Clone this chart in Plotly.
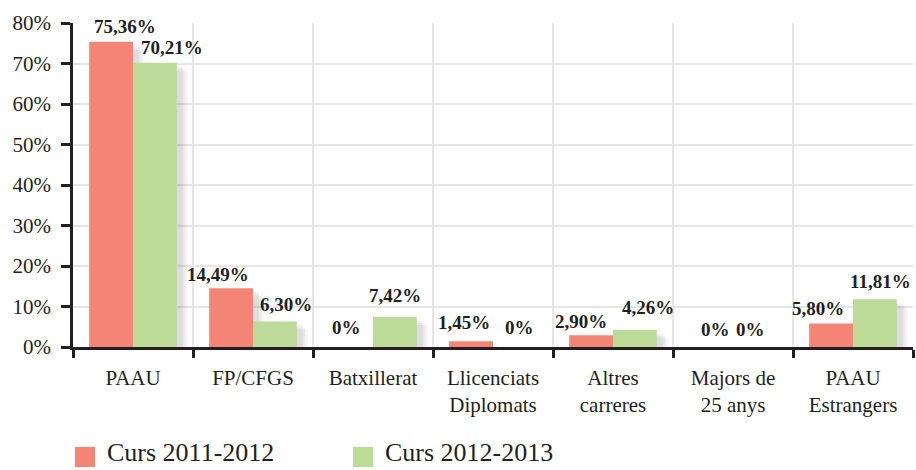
import plotly.graph_objects as go

# Data
categories = ["PAAU", "FP/CFGS", "Batxillerat", "Llicenciats<br>Diplomats",
              "Altres<br>carreres", "Majors de<br>25 anys", "PAAU<br>Estrangers"]
series_names = ["Curs 2011-2012", "Curs 2012-2013"]
values_2011 = [75.36, 14.49, 0, 1.45, 2.90, 0, 5.80]
values_2012 = [70.21, 6.30, 7.42, 0, 4.26, 0, 11.81]
y_ticks = [0, 10, 20, 30, 40, 50, 60, 70, 80]

# Styling
colors = ["#F38476", "#BCDA98"]
ink = "#231F20"
grid = "#E6E6E6"
serif = "Liberation Serif, Times New Roman, serif"
bar_w = 0.365
offsets = [-bar_w, 0.0]

# Label nudges (px) for the value captions
nudge_x = [[14, -13, -5, -7, -10, 4, -13], [17, 11, 0, 5, 13, -4, 6]]
nudge_y = [[8, 6, 12, 11, 6, 10, 8], [8, 9, 14, 12, 15, 10, 10]]

W, H = 916, 470
ML, MR, MT, MB = 73, 3, 23, 123

def fmt(v):
    if v == 0:
        return "0%"
    return f"{v:.2f}".replace(".", ",") + "%"

fig = go.Figure()
series = [values_2011, values_2012]

# Soft drop shadows behind each bar
for s, vals in enumerate(series):
    for k, (grow, alpha) in enumerate([(0.06, 0.05), (0.04, 0.06), (0.02, 0.07)]):
        fig.add_trace(go.Bar(
            x=categories, y=[v + 0.2 if v > 0 else 0 for v in vals],
            base=[-2.2 + k * 0.5 if v > 0 else 0 for v in vals],
            offset=offsets[s] + 0.03, width=bar_w + grow,
            marker=dict(color=f"rgba(60,60,60,{alpha})", line=dict(width=0)),
            showlegend=False, hoverinfo="skip"))

for s, vals in enumerate(series):
    fig.add_trace(go.Bar(
        x=categories, y=vals, name=series_names[s],
        offset=offsets[s], width=bar_w,
        marker=dict(color=colors[s], line=dict(width=0)),
        showlegend=False))

annotations = []
for s, vals in enumerate(series):
    for i, v in enumerate(vals):
        annotations.append(dict(
            x=categories[i], y=v, xref="x", yref="y",
            text=f"<b>{fmt(v)}</b>", showarrow=False,
            xanchor="center", yanchor="bottom",
            xshift=(offsets[s] + bar_w / 2) * (W - ML - MR) / 7 + nudge_x[s][i],
            yshift=nudge_y[s][i] - 5,
            font=dict(family=serif, size=19, color=ink)))

# Legend drawn as squares and text below the axis
plot_w = W - ML - MR
plot_h = H - MT - MB
legend_px = [(75, 105), (353, 383)]
shapes = []
for s, (sq_x, tx_x) in enumerate(legend_px):
    shapes.append(dict(
        type="rect", xref="paper", yref="paper",
        x0=(sq_x - ML) / plot_w, x1=(sq_x + 20 - ML) / plot_w,
        y0=(H - MB - 467) / plot_h, y1=(H - MB - 447) / plot_h,
        fillcolor=colors[s], line=dict(width=0)))
    annotations.append(dict(
        x=(tx_x - ML) / plot_w, y=(H - MB - 469) / plot_h,
        xref="paper", yref="paper", text=series_names[s], showarrow=False,
        xanchor="left", yanchor="bottom",
        font=dict(family=serif, size=26, color=ink)))

fig.update_layout(
    width=W, height=H,
    margin=dict(l=ML, r=MR, t=MT, b=MB),
    paper_bgcolor="white", plot_bgcolor="white",
    barmode="overlay",
    showlegend=False,
    annotations=annotations,
    shapes=shapes,
    font=dict(family=serif, color=ink),
)
fig.update_xaxes(
    type="category", range=[-0.5, 6.5],
    tickson="boundaries", ticks="outside", ticklen=8, tickwidth=2.5, tickcolor=ink,
    showgrid=True, gridcolor=grid, gridwidth=2,
    showline=True, linecolor=ink, linewidth=2.5,
    tickfont=dict(family=serif, size=21, color=ink),
    ticklabelstandoff=10,
)
fig.update_yaxes(
    range=[0, 80], tickvals=y_ticks, ticktext=[f"{t}%" for t in y_ticks],
    ticks="outside", ticklen=9, tickwidth=2.5, tickcolor=ink,
    showgrid=True, gridcolor=grid, gridwidth=2,
    showline=True, linecolor=ink, linewidth=2.5,
    zeroline=False,
    tickfont=dict(family=serif, size=21, color=ink),
    ticklabelstandoff=6,
)

fig.write_html("out.html")
